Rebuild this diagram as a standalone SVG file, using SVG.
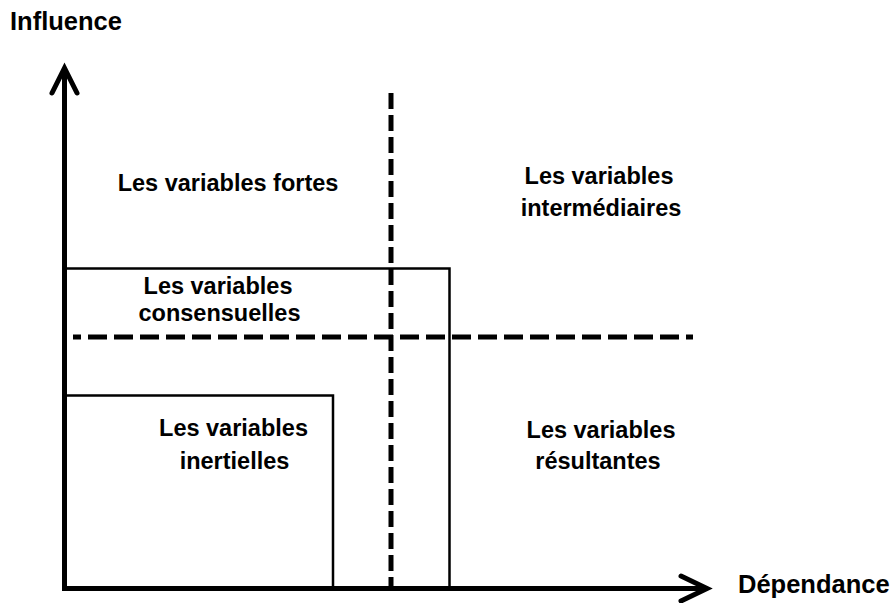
<svg xmlns="http://www.w3.org/2000/svg" width="896" height="603" viewBox="0 0 896 603">
<style>
.lbl{font-family:"Liberation Sans",Arial,sans-serif;font-weight:bold;font-size:23.5px;fill:#000;text-anchor:middle}
.ax{font-family:"Liberation Sans",Arial,sans-serif;font-weight:bold;font-size:25.5px;fill:#000}
.axis{stroke:#000;stroke-width:5;fill:none}
.head{stroke:#000;stroke-width:5;fill:none;stroke-linecap:round;stroke-linejoin:miter}
.box{stroke:#000;stroke-width:2.5;fill:none}
.dash{stroke:#000;stroke-width:5;fill:none}
</style>
<rect width="896" height="603" fill="#fff"/>
<g id="connectors">
<line class="axis" x1="64.5" y1="590.5" x2="64.5" y2="70"/>
<polyline class="head" points="52,93 64.5,68 77,93"/>
<line class="axis" x1="62" y1="588.5" x2="704" y2="588.5"/>
<polyline class="head" points="681,576 707,588.5 681,601"/>
<line class="dash" x1="391" y1="93" x2="391" y2="586" stroke-dasharray="16 6"/>
<line class="dash" x1="73" y1="337" x2="693" y2="337" stroke-dasharray="19 7" stroke-dashoffset="11"/>
</g>
<g id="box-consensuelles"><polyline class="box" points="65,268.5 449.5,268.5 449.5,588"/></g>
<g id="box-inertielles"><polyline class="box" points="65,395.5 333,395.5 333,588"/></g>
<g id="label-influence"><text class="ax" x="10" y="30">Influence</text></g>
<g id="label-dependance"><text class="ax" x="738" y="593">Dépendance</text></g>
<g id="node-fortes"><text class="lbl" x="228" y="191">Les variables fortes</text></g>
<g id="node-intermediaires"><text class="lbl" x="599" y="184">Les variables</text><text class="lbl" x="601" y="216">intermédiaires</text></g>
<g id="node-consensuelles"><text class="lbl" x="218" y="294">Les variables</text><text class="lbl" x="219.5" y="321">consensuelles</text></g>
<g id="node-inertielles"><text class="lbl" x="233.5" y="436">Les variables</text><text class="lbl" x="234.5" y="469">inertielles</text></g>
<g id="node-resultantes"><text class="lbl" x="601" y="438">Les variables</text><text class="lbl" x="598" y="469">résultantes</text></g>
</svg>
